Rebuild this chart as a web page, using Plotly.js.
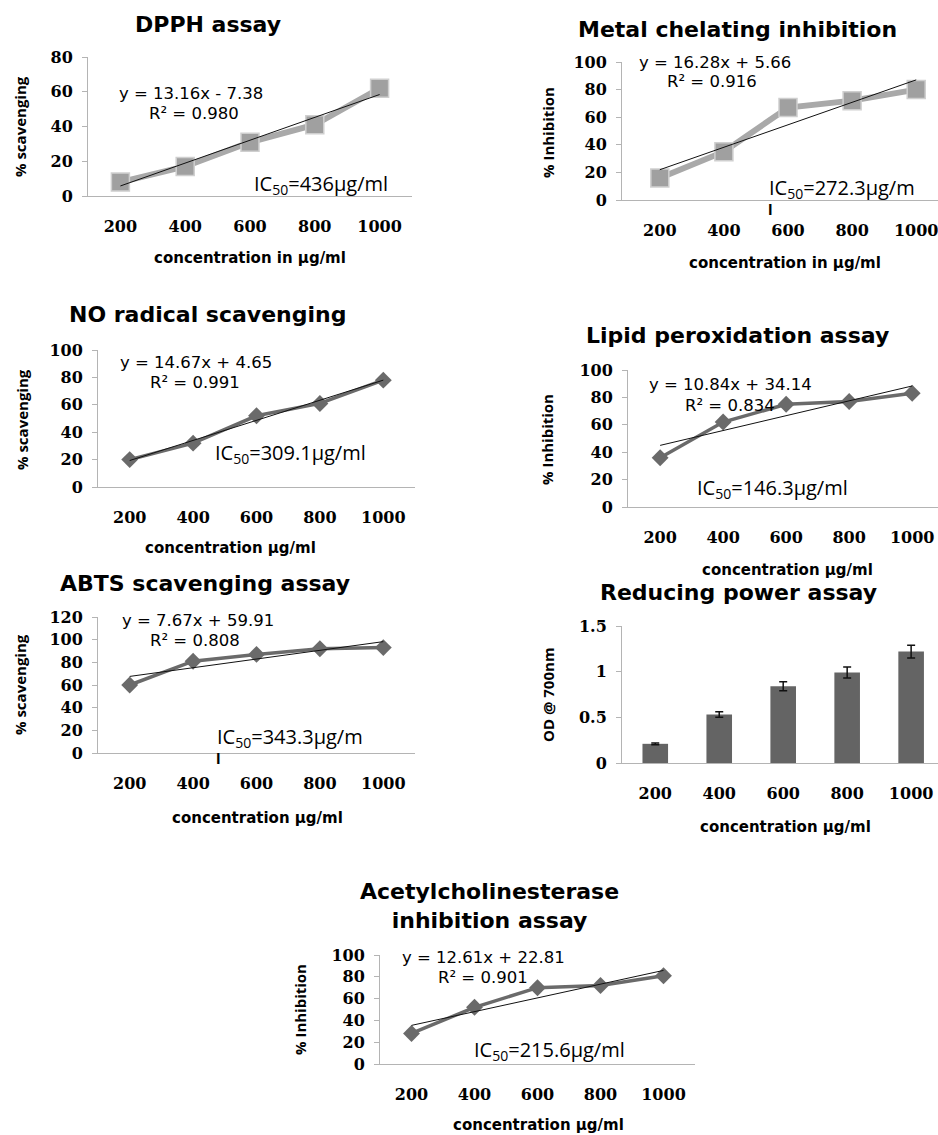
<!DOCTYPE html>
<html>
<head>
<meta charset="utf-8">
<script src="https://cdn.plot.ly/plotly-3.0.1.min.js"></script>
<style>html,body{margin:0;padding:0;background:#fff;} #chart{width:938px;height:1135px;}</style>
</head>
<body>
<div id="chart"></div>
<script>
// ---------------- DATA ----------------
const concentrations = ['200', '400', '600', '800', '1000'];
const trendX = ['200', '1000'];

const dpphValues = [8, 17, 31, 41, 62];
const dpphTrend = [5.78, 58.42];

const metalValues = [16, 35, 67, 72, 80];
const metalTrend = [21.94, 87.06];

const noValues = [20, 32, 52, 61, 78];
const noTrend = [19.32, 77.99];

const lipidValues = [36, 62, 75, 77, 83];
const lipidTrend = [44.98, 88.34];

const abtsValues = [60, 81, 87, 92, 93];
const abtsTrend = [67.58, 98.26];

const reducingValues = [0.21, 0.53, 0.84, 0.99, 1.22];
const reducingErrors = [0.01, 0.03, 0.05, 0.06, 0.07];

const acheValues = [28, 52, 70, 72, 81];
const acheTrend = [35.42, 85.86];

const panelTitles = ['DPPH assay', 'Metal chelating inhibition', 'NO radical scavenging',
  'Lipid peroxidation assay', 'ABTS scavenging assay', 'Reducing power assay',
  'Acetylcholinesterase<br>inhibition assay'];
const yTitles = ['% scavenging', '% Inhibition', '% scavenging', '% Inhibition',
  '% scavenging', 'OD @ 700nm', '% Inhibition'];
const xTitles = ['concentration in µg/ml', 'concentration in µg/ml', 'concentration µg/ml',
  'concentration µg/ml', 'concentration µg/ml', 'concentration µg/ml', 'concentration µg/ml'];
const equations = ['y = 13.16x - 7.38', 'y = 16.28x + 5.66', 'y = 14.67x + 4.65',
  'y = 10.84x + 34.14', 'y = 7.67x + 59.91', null, 'y = 12.61x + 22.81'];
const rSquared = ['R² = 0.980', 'R² = 0.916', 'R² = 0.991', 'R² = 0.834', 'R² = 0.808', null, 'R² = 0.901'];
const ic50Labels = ['IC<sub>50</sub>=436µg/ml', 'IC<sub>50</sub>=272.3µg/m',
  'IC<sub>50</sub>=309.1µg/ml', 'IC<sub>50</sub>=146.3µg/ml',
  'IC<sub>50</sub>=343.3µg/m', null, 'IC<sub>50</sub>=215.6µg/ml'];
// wrapped last letter of the unit, shown on its own line in the original
const ic50Wrapped = [null, 'l', null, null, 'l', null, null];

// ---------------- LAYOUT HELPERS ----------------
const W = 938, H = 1135;
const px = v => v / W;
const py = v => 1 - v / H;

// panel geometry (pixels): x domain, y domain (top, bottom), category range, value range
const panels = [
  {x: [88, 412], y: [57, 196], xr: [-0.5, 4.5], yr: [0, 80], dt: 20},
  {x: [622, 938], y: [62, 200], xr: [-0.59, 4.34], yr: [0, 100], dt: 20},
  {x: [98, 415], y: [350, 487], xr: [-0.5, 4.5], yr: [0, 100], dt: 20},
  {x: [628, 938], y: [370, 507], xr: [-0.51, 4.41], yr: [0, 100], dt: 20},
  {x: [98, 415], y: [617, 753], xr: [-0.5, 4.5], yr: [0, 120], dt: 20},
  {x: [622, 938], y: [626, 763], xr: [-0.52, 4.42], yr: [0, 1.5], dt: 0.5},
  {x: [380, 695], y: [955, 1064], xr: [-0.5, 4.5], yr: [0, 100], dt: 20}
];

const tickFont = {family: 'DejaVu Serif', size: 16, color: '#000', weight: 'bold'};
const axisColor = '#b4b4b4';

const layout = {
  width: W, height: H,
  margin: {l: 0, r: 0, t: 0, b: 0},
  paper_bgcolor: '#fff', plot_bgcolor: 'rgba(0,0,0,0)',
  showlegend: false,
  annotations: []
};

panels.forEach((p, i) => {
  const n = i + 1;
  layout['xaxis' + n] = {
    domain: [px(p.x[0]), px(p.x[1])],
    anchor: 'y' + n,
    type: 'category',
    range: p.xr,
    showline: true, linecolor: axisColor, linewidth: 1,
    showgrid: false, zeroline: false, ticks: '',
    tickfont: tickFont, ticklabelstandoff: 16,
    fixedrange: true
  };
  layout['yaxis' + n] = {
    domain: [py(p.y[1]), py(p.y[0])],
    anchor: 'x' + n,
    range: p.yr, dtick: p.dt, tick0: 0,
    showline: true, linecolor: axisColor, linewidth: 1,
    showgrid: false, zeroline: false,
    ticks: 'outside', ticklen: 5, tickcolor: axisColor,
    tickfont: tickFont, ticklabelstandoff: 6,
    fixedrange: true
  };
});

// text positions (pixels)
const titlePos = [[208, 25], [737, 30], [207, 315], [737, 335], [205, 583], [738, 592], [490, 906]];
const yTitlePos = [[20, 127], [548, 133], [22, 420], [547, 440], [20, 685], [548, 695], [300, 1010]];
const xTitlePos = [[250, 258], [785, 263], [230, 548], [787, 570], [257, 818], [785, 827], [538, 1125]];
const eqPos = [[117, 93], [637, 62], [118, 362], [647, 385], [120, 620], null, [400, 957]];
const r2Pos = [[147, 113], [665, 82], [148, 382], [683, 405], [148, 640], null, [436, 977]];
const icPos = [[252, 185], [767, 188], [213, 453], [695, 488], [215, 737], null, [472, 1050]];
const icWrapPos = [null, [767, 209], null, null, [215, 758], null, null];

const titleFont = {family: 'DejaVu Sans', size: 22, color: '#000', weight: 'bold'};
const xTitleFont = {family: 'DejaVu Sans', size: 15, color: '#000', weight: 'bold'};
const yTitleFont = {family: 'Open Sans', size: 15, color: '#000', weight: 'bold'};
const eqFont = {family: 'DejaVu Sans', size: 16.5, color: '#000'};
const icFont = {family: 'Open Sans', size: 20, color: '#000'};
const icWrapFont = {family: 'Open Sans', size: 15, color: '#000', weight: 'bold'};

for (let i = 0; i < 7; i++) {
  layout.annotations.push({text: panelTitles[i], xref: 'paper', yref: 'paper',
    x: px(titlePos[i][0]), y: py(titlePos[i][1]), xanchor: 'center', yanchor: 'middle',
    showarrow: false, font: titleFont});
  layout.annotations.push({text: yTitles[i], xref: 'paper', yref: 'paper', textangle: -90,
    x: px(yTitlePos[i][0]), y: py(yTitlePos[i][1]), xanchor: 'center', yanchor: 'middle',
    showarrow: false, font: yTitleFont});
  layout.annotations.push({text: xTitles[i], xref: 'paper', yref: 'paper',
    x: px(xTitlePos[i][0]), y: py(xTitlePos[i][1]), xanchor: 'center', yanchor: 'middle',
    showarrow: false, font: xTitleFont});
  if (equations[i]) {
    layout.annotations.push({text: equations[i], xref: 'paper', yref: 'paper',
      x: px(eqPos[i][0]), y: py(eqPos[i][1]), xanchor: 'left', yanchor: 'middle',
      showarrow: false, font: eqFont});
    layout.annotations.push({text: rSquared[i], xref: 'paper', yref: 'paper',
      x: px(r2Pos[i][0]), y: py(r2Pos[i][1]), xanchor: 'left', yanchor: 'middle',
      showarrow: false, font: eqFont});
  }
  if (ic50Labels[i]) {
    layout.annotations.push({text: ic50Labels[i], xref: 'paper', yref: 'paper', align: 'left',
      x: px(icPos[i][0]), y: py(icPos[i][1]), xanchor: 'left', yanchor: 'middle',
      showarrow: false, font: icFont});
  }
  if (ic50Wrapped[i]) {
    layout.annotations.push({text: ic50Wrapped[i], xref: 'paper', yref: 'paper',
      x: px(icWrapPos[i][0]), y: py(icWrapPos[i][1]), xanchor: 'left', yanchor: 'middle',
      showarrow: false, font: icWrapFont, borderpad: 0});
  }
}

// ---------------- TRACES ----------------
const traces = [];
function lightSeries(vals, trend, n) {
  traces.push({x: concentrations, y: vals, xaxis: 'x' + n, yaxis: 'y' + n, type: 'scatter',
    mode: 'lines+markers', line: {color: '#a9a9a9', width: 6},
    marker: {symbol: 'square', size: 18, color: '#a0a0a0', line: {color: '#cfcfcf', width: 1.5}},
    hoverinfo: 'skip'});
  traces.push({x: trendX, y: trend, xaxis: 'x' + n, yaxis: 'y' + n, type: 'scatter',
    mode: 'lines', line: {color: '#111', width: 1}, hoverinfo: 'skip'});
}
function darkSeries(vals, trend, n) {
  traces.push({x: concentrations, y: vals, xaxis: 'x' + n, yaxis: 'y' + n, type: 'scatter',
    mode: 'lines+markers', line: {color: '#6a6a6a', width: 3.5},
    marker: {symbol: 'diamond', size: 13, color: '#6a6a6a'},
    hoverinfo: 'skip'});
  traces.push({x: trendX, y: trend, xaxis: 'x' + n, yaxis: 'y' + n, type: 'scatter',
    mode: 'lines', line: {color: '#111', width: 1}, hoverinfo: 'skip'});
}
lightSeries(dpphValues, dpphTrend, 1);
lightSeries(metalValues, metalTrend, 2);
darkSeries(noValues, noTrend, 3);
darkSeries(lipidValues, lipidTrend, 4);
darkSeries(abtsValues, abtsTrend, 5);
traces.push({x: concentrations, y: reducingValues, xaxis: 'x6', yaxis: 'y6', type: 'bar',
  width: 0.4, marker: {color: '#646464'},
  error_y: {type: 'data', array: reducingErrors, visible: true, color: '#111', thickness: 1.5, width: 4},
  hoverinfo: 'skip'});
darkSeries(acheValues, acheTrend, 7);

Plotly.newPlot('chart', traces, layout, {staticPlot: true, displayModeBar: false});
</script>
</body>
</html>
